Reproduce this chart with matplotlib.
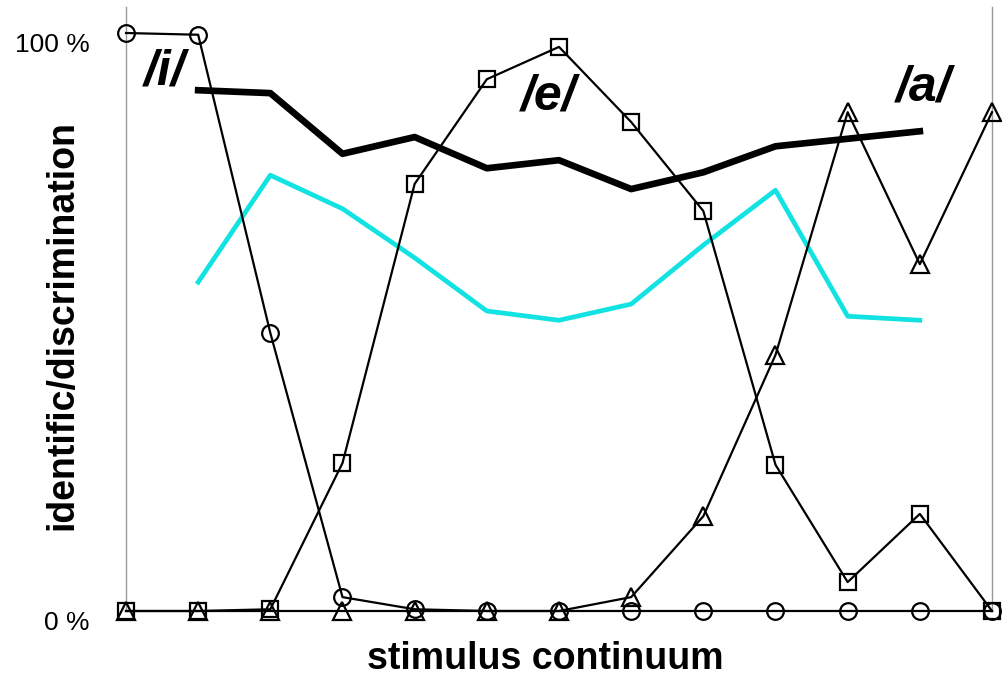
import matplotlib
matplotlib.use("Agg")
import matplotlib.pyplot as plt
import matplotlib.transforms as mtransforms

plt.rcParams['font.family'] = ['Liberation Sans', 'DejaVu Sans']

steps = list(range(1, 14))
ident_i = [100, 99.7, 48.1, 2.4, 0.3, 0, 0, 0, 0, 0, 0, 0, 0]
ident_e = [0, 0, 0.3, 25.6, 73.9, 92.0, 97.6, 84.6, 69.2, 25.3, 5.0, 16.8, 0]
ident_a = [0, 0, 0, 0, 0, 0, 0, 2.4, 16.4, 44.3, 86.3, 60.0, 86.3]
disc_steps = list(range(2, 13))
disc_black = [90.1, 89.6, 79.1, 82.0, 76.6, 78.0, 73.0, 75.9, 80.4, 81.7, 83.0]
disc_cyan = [56.9, 75.4, 69.6, 61.1, 51.9, 50.3, 53.1, 63.3, 72.8, 51.0, 50.3]
vowel_labels = ['/i/', '/e/', '/a/']
vowel_pos = [(1.54, 93.3), (6.85, 89.1), (12.05, 90.5)]
ytick_vals = [0, 100]
ytick_labels = ['0 %', '100 %']

W, H = 1002, 684
AX_L, AX_R, AX_T, AX_B = 126, 992, 7, 611
fig = plt.figure(figsize=(W / 100, H / 100), dpi=100)
ax = fig.add_axes([AX_L / W, 1 - AX_B / H, (AX_R - AX_L) / W, (AX_B - AX_T) / H])

ax.plot(disc_steps, disc_cyan, color='#12E2E2', lw=3.4, zorder=2)
ax.plot(disc_steps, disc_black, color='black', lw=4.8, zorder=2)

mk = dict(color='black', lw=1.6, markersize=12, markeredgewidth=1.6,
          fillstyle='none', clip_on=False, zorder=3)
ax.plot(steps, ident_i, marker='o', **mk)
ax.plot(steps, ident_e, marker='s', **mk)
ax.plot(steps, ident_a, marker='^', **{**mk, 'markersize': 13})

for lab, (x, y) in zip(vowel_labels, vowel_pos):
    ax.text(x, y, lab, fontsize=36, fontweight='bold', fontstyle='italic',
            ha='center', va='center')

ax.set_xlim(1, 13)
ax.set_ylim(0, 104.5)
ax.set_xticks([])
ax.set_yticks(ytick_vals)
ax.set_yticklabels(ytick_labels, fontsize=19)
ax.tick_params(axis='y', length=0, pad=26)
offset = mtransforms.ScaledTranslation(0, -9 / 100, fig.dpi_scale_trans)
for t in ax.get_yticklabels():
    t.set_transform(t.get_transform() + offset)

for s in ['top', 'bottom']:
    ax.spines[s].set_visible(False)
for s in ['left', 'right']:
    ax.spines[s].set_color('#999999')
    ax.spines[s].set_linewidth(1.0)

ax.set_xlabel('stimulus continuum', fontsize=27, fontweight='bold')
ax.set_ylabel('identific/discrimination', fontsize=27, fontweight='bold')
ax.yaxis.set_label_coords(-(AX_L - 80) / (AX_R - AX_L), (AX_B - 325) / (AX_B - AX_T))
ax.xaxis.set_label_coords((545 - AX_L) / (AX_R - AX_L), -(641 - AX_B) / (AX_B - AX_T))

fig.savefig('out.png', dpi=100)
